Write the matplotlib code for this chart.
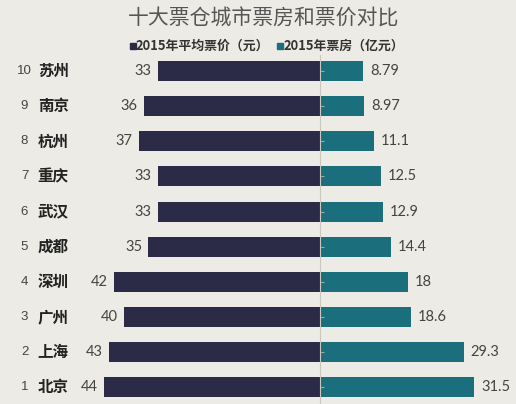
import numpy as np
import matplotlib
matplotlib.use('Agg')
import matplotlib.pyplot as plt
from matplotlib.patches import Rectangle

plt.rcParams['font.family'] = ['Noto Sans CJK SC', 'DejaVu Sans']

ranks = [10, 9, 8, 7, 6, 5, 4, 3, 2, 1]
cities = ['苏州', '南京', '杭州', '重庆', '武汉', '成都', '深圳', '广州', '上海', '北京']
price = [33, 36, 37, 33, 33, 35, 42, 40, 43, 44]
box_office = [8.79, 8.97, 11.1, 12.5, 12.9, 14.4, 18, 18.6, 29.3, 31.5]
box_labels = ['8.79', '8.97', '11.1', '12.5', '12.9', '14.4', '18', '18.6', '29.3', '31.5']

bg = '#ecebe5'
navy = '#2c2b47'
teal = '#1b6e7c'

fig = plt.figure(figsize=(5.16, 4.04), dpi=100, facecolor=bg)
ax = fig.add_axes([0, 0, 1, 1], facecolor=bg)
ax.set_xlim(-65.3, 40)
ax.set_ylim(0.516, 12.03)

h = 0.57
ax.barh(ranks, [-p for p in price], height=h, color=navy, zorder=1)
ax.barh(ranks, box_office, height=h, color=teal, zorder=1)

for r, c, p in zip(ranks, cities, price):
    ax.text(-60.3, r, str(r), ha='center', va='center', fontsize=9.5, color='#444444',
            family=['Liberation Sans', 'DejaVu Sans'])
    ax.text(-57.6, r, c, ha='left', va='center', fontsize=11.2, fontweight='bold', color='#222222')
    ax.text(-p - 1.3, r, str(p), ha='right', va='center', fontsize=10.5, color='#444444',
            family=['Lato', 'DejaVu Sans'])
for r, v, lab in zip(ranks, box_office, box_labels):
    ax.text(v + 1.4, r, lab, ha='left', va='center', fontsize=10.5, color='#444444',
            family=['Lato', 'DejaVu Sans'])

# centre axis line with small ticks
ax.spines[['top', 'right', 'bottom']].set_visible(False)
ax.spines['left'].set_position(('data', 0))
ax.spines['left'].set_color('#c9c8c0')
ax.spines['left'].set_bounds(0.516, 10.46)
ax.set_xticks([])
ax.set_yticks(ranks)
ax.tick_params(axis='y', direction='in', length=3, color='#9aa8aa', labelleft=False)

# title
fig.text(0.51, 0.955, '十大票仓城市票房和票价对比', ha='center', va='center',
         fontsize=15, color='#555555')

# legend
ax.add_patch(Rectangle((-38.8, 10.64), 1.2, 0.17, color=navy, clip_on=False))
ax.text(-37.6, 10.72, '2015年平均票价（元）', ha='left', va='center', fontsize=9.3,
        fontweight='bold', color='#333333')
ax.add_patch(Rectangle((-8.7, 10.64), 1.2, 0.17, color=teal, clip_on=False))
ax.text(-7.4, 10.72, '2015年票房（亿元）', ha='left', va='center', fontsize=9.3,
        fontweight='bold', color='#333333')

plt.savefig('out.png', dpi=100, facecolor=bg)
